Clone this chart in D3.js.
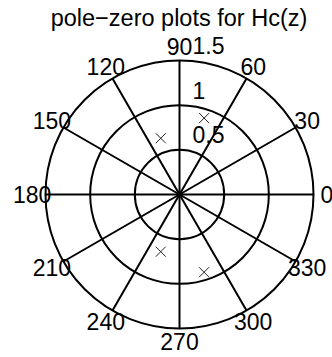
<!DOCTYPE html>
<html>
<head>
<meta charset="utf-8">
<script src="https://cdn.jsdelivr.net/npm/d3@7"></script>
<style>
  html, body { margin: 0; padding: 0; background: #fff; }
  svg text { font-family: "Liberation Sans", Arial, Helvetica, sans-serif; fill: #000; }
</style>
</head>
<body>
<svg id="chart" width="332" height="357"></svg>
<script>
// Poles of Hc(z), as real / imaginary parts
const poleRe = [-0.21, -0.21, 0.275, 0.275];
const poleIm = [0.63, -0.64, 0.855, -0.87];

// Radial grid rings and their labels
const radialTicks = [0.5, 1, 1.5];
const radialLabels = ["0.5", "1", "1.5"];

// Angular spokes (degrees) and their labels
const angleTicks = [0, 30, 60, 90, 120, 150, 180, 210, 240, 270, 300, 330];
const angleLabels = ["0", "30", "60", "90", "120", "150", "180", "210", "240", "270", "300", "330"];

const titleText = "pole\u2212zero plots for Hc(z)";

const svg = d3.select("#chart");
const cx = 179.5, cy = 194.5;
const rMax = 1.5;
const r = d3.scaleLinear().domain([0, rMax]).range([0, 134]);
const x = d3.scaleLinear().domain([-rMax, rMax]).range([cx - 134, cx + 134]);
const y = d3.scaleLinear().domain([-rMax, rMax]).range([cy + 134, cy - 134]);

const g = svg.append("g");

// concentric rings
g.selectAll("circle.ring")
  .data(radialTicks)
  .enter().append("circle")
  .attr("class", "ring")
  .attr("cx", cx).attr("cy", cy)
  .attr("r", d => r(d))
  .attr("fill", "none")
  .attr("stroke", "#000")
  .attr("stroke-width", 2);

// spokes through the origin
const rad = d => d * Math.PI / 180;
g.selectAll("line.spoke")
  .data(angleTicks)
  .enter().append("line")
  .attr("class", "spoke")
  .attr("x1", cx).attr("y1", cy)
  .attr("x2", d => x(rMax * Math.cos(rad(d))))
  .attr("y2", d => y(rMax * Math.sin(rad(d))))
  .attr("stroke", "#000")
  .attr("stroke-width", 2);

// angle labels just outside the outer ring
g.selectAll("text.ang")
  .data(angleTicks)
  .enter().append("text")
  .attr("class", "ang")
  .attr("x", d => x(1.1 * rMax * Math.cos(rad(d))))
  .attr("y", d => y(1.1 * rMax * Math.sin(rad(d))))
  .attr("text-anchor", "middle")
  .attr("dominant-baseline", "central")
  .attr("font-size", 23)
  .text((d, i) => angleLabels[i]);

// ring labels along the 82 degree direction
const labAng = rad(82);
g.selectAll("text.rad")
  .data(radialTicks)
  .enter().append("text")
  .attr("class", "rad")
  .attr("x", cx + 13)
  .attr("y", d => y(d * Math.sin(labAng)) - 7.5)
  .attr("font-size", 23)
  .text((d, i) => radialLabels[i]);

// pole markers
const poles = poleRe.map((re, i) => ({ re, im: poleIm[i] }));
const s = 5;
const mk = g.selectAll("g.pole")
  .data(poles)
  .enter().append("g")
  .attr("class", "pole")
  .attr("transform", d => `translate(${x(d.re)},${y(d.im)})`);
mk.append("line").attr("x1", -s).attr("y1", -s).attr("x2", s).attr("y2", s)
  .attr("stroke", "#222").attr("stroke-width", 1);
mk.append("line").attr("x1", -s).attr("y1", s).attr("x2", s).attr("y2", -s)
  .attr("stroke", "#222").attr("stroke-width", 1);

// title
svg.append("text")
  .attr("x", 179)
  .attr("y", 26)
  .attr("text-anchor", "middle")
  .attr("font-size", 23.5)
  .text(titleText);
</script>
</body>
</html>
